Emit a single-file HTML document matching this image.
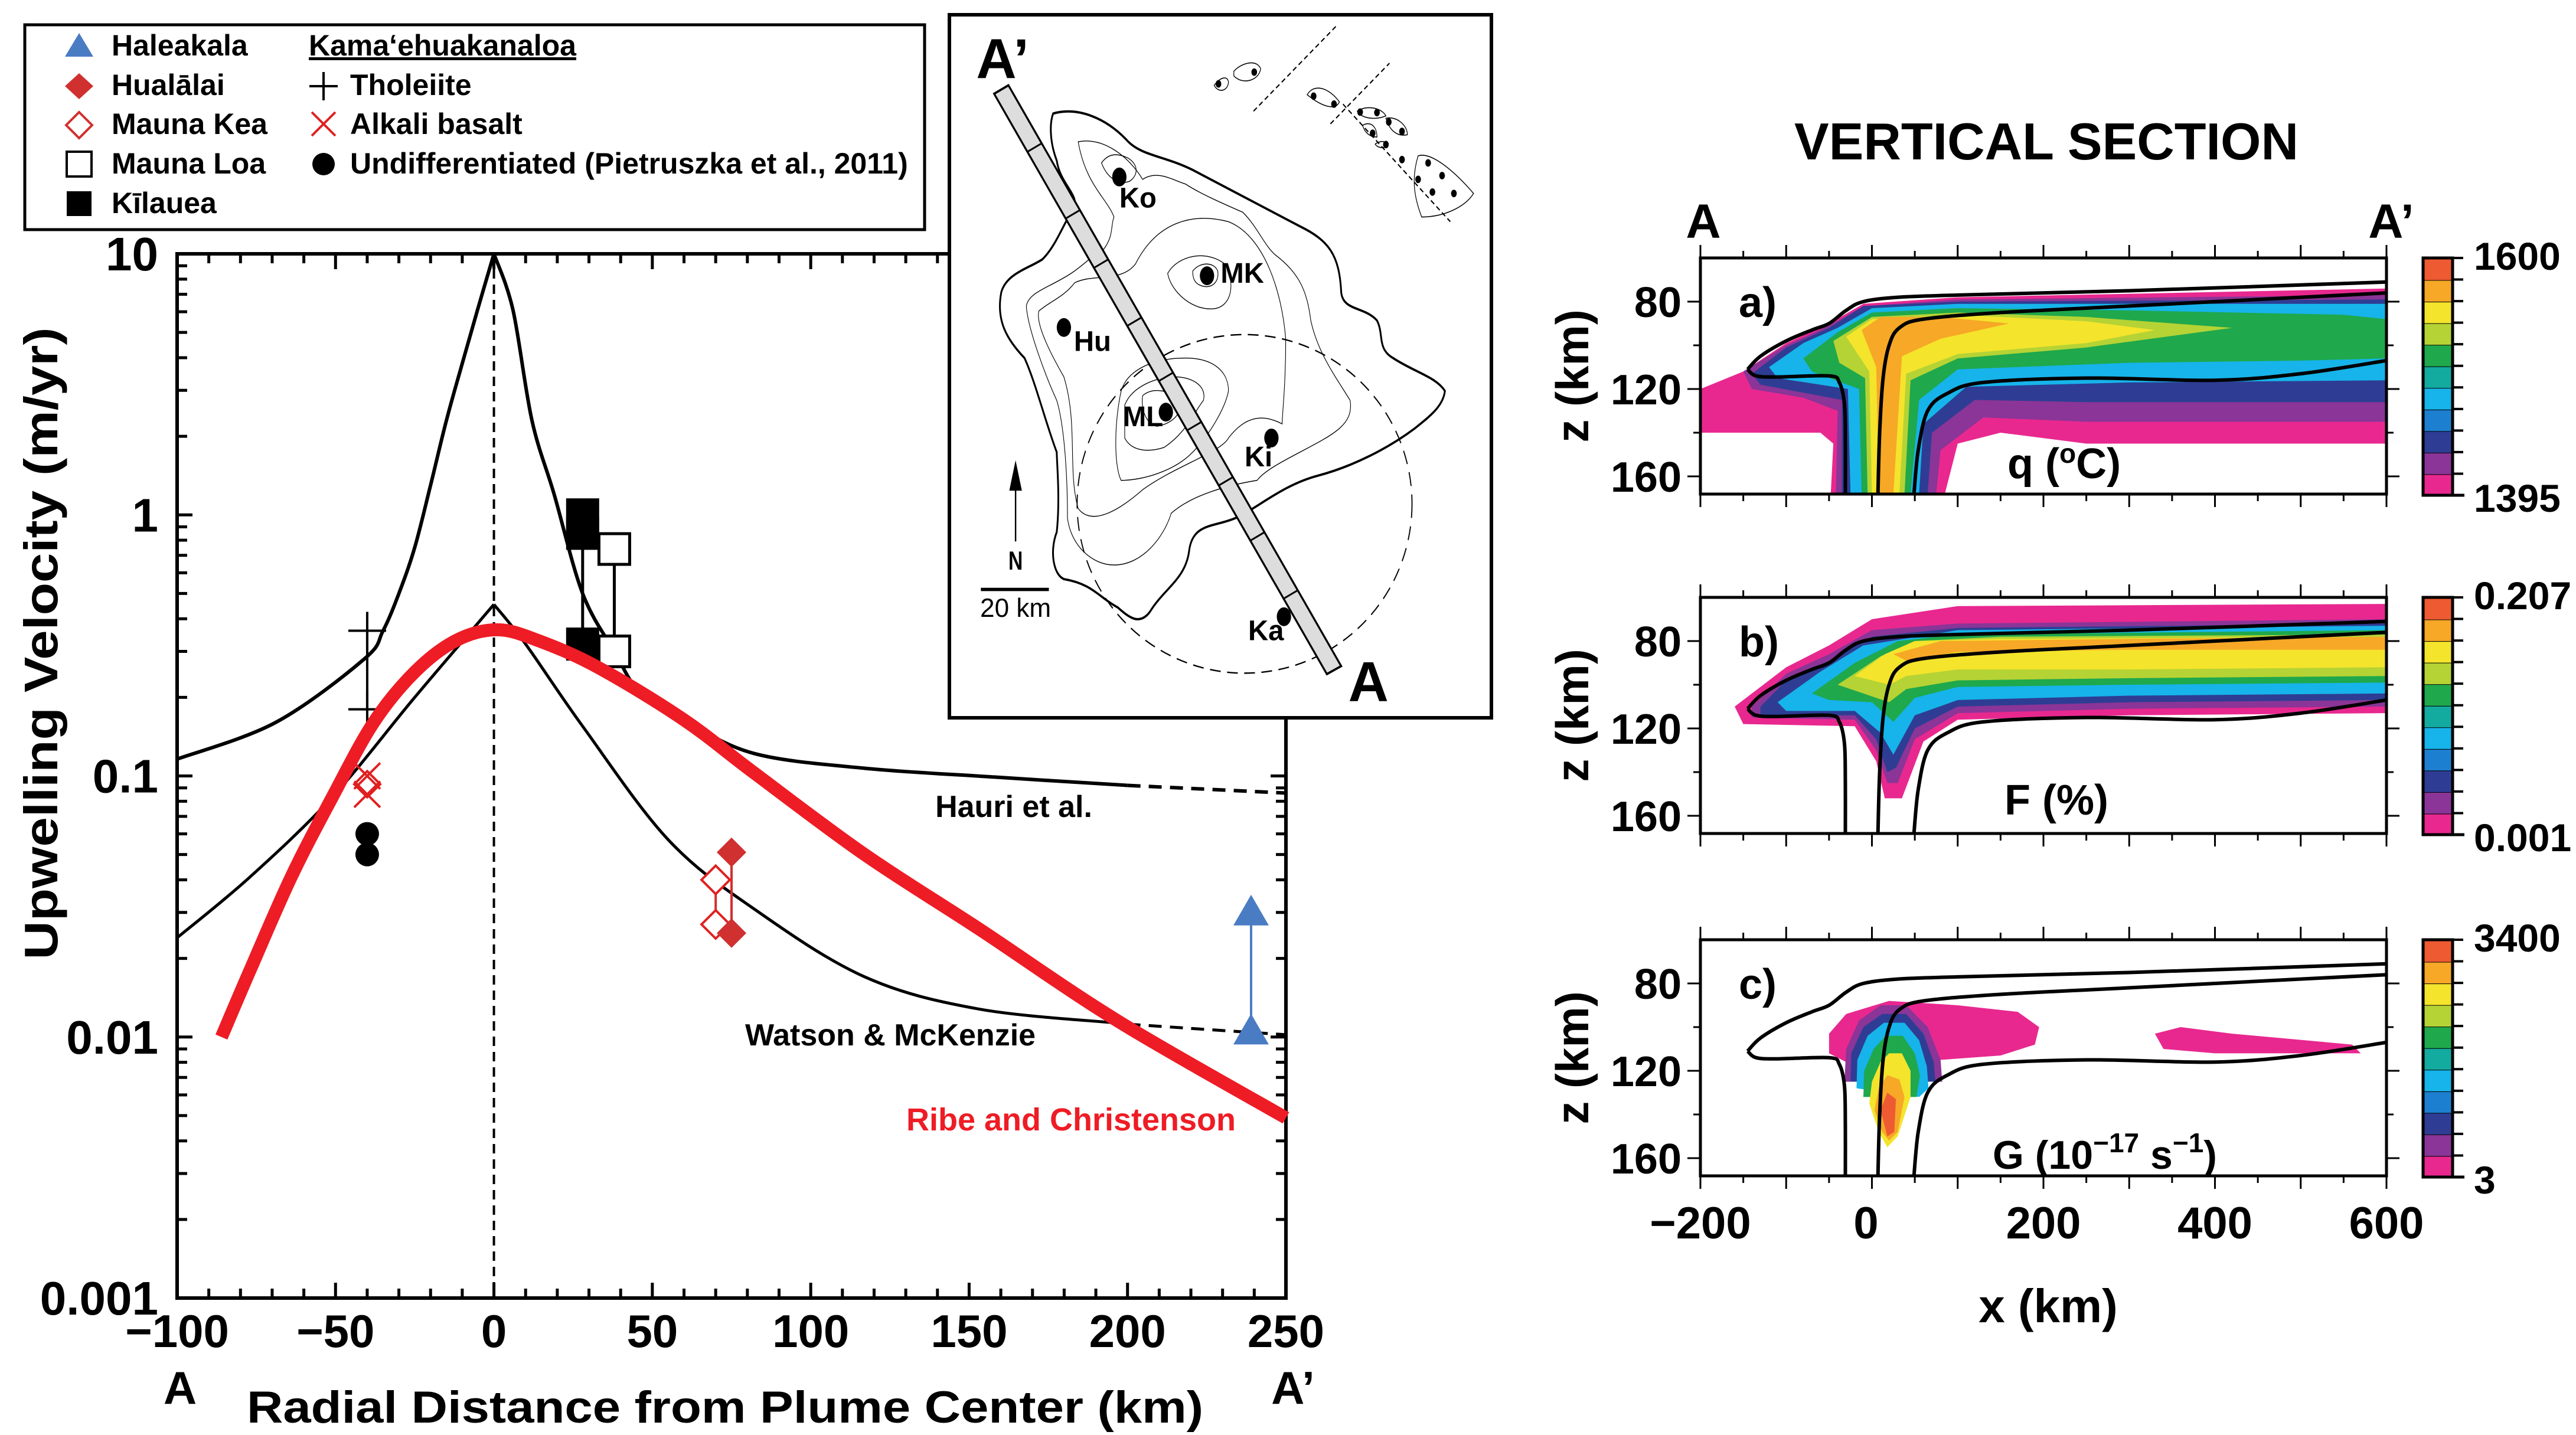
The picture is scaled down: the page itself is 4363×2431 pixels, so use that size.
<!DOCTYPE html>
<html><head><meta charset="utf-8"><style>
html,body{margin:0;padding:0;background:#fff}
svg{display:block}
text{font-family:"Liberation Sans",Arial,sans-serif;font-weight:bold}
</style></head><body>
<svg id="fig" xmlns="http://www.w3.org/2000/svg" width="4363" height="2431" viewBox="0 0 4363 2431">
<rect x="0" y="0" width="4363" height="2431" fill="#fff"/>
<g id="mainplot"></g>
<g id="legend">
 <rect x="42" y="42" width="1524" height="347" fill="#fff" stroke="#000" stroke-width="5"/>
 <polygon points="110,96 158,96 134,56" fill="#4a7cc4"/>
 <text x="189" y="94" font-size="50">Haleakala</text>
 <polygon points="134,124 158,146 134,168 110,146" fill="#d03030"/>
 <text x="189" y="161" font-size="50">Hualālai</text>
 <polygon points="134,190 156,212 134,234 112,212" fill="#fff" stroke="#d03030" stroke-width="4"/>
 <text x="189" y="227" font-size="50">Mauna Kea</text>
 <rect x="113" y="257" width="42" height="42" fill="#fff" stroke="#000" stroke-width="4"/>
 <text x="189" y="294" font-size="50">Mauna Loa</text>
 <rect x="113" y="324" width="42" height="42" fill="#000"/>
 <text x="189" y="361" font-size="50">Kīlauea</text>
 <text x="523" y="94" font-size="50" text-decoration="underline">Kamaʻehuakanaloa</text>
 <path d="M548,122 V170 M524,146 H572" stroke="#000" stroke-width="4"/>
 <text x="593" y="161" font-size="50">Tholeiite</text>
 <path d="M528,190 L568,230 M568,190 L528,230" stroke="#e02020" stroke-width="4"/>
 <text x="593" y="227" font-size="50">Alkali basalt</text>
 <circle cx="548" cy="278" r="19" fill="#000"/>
 <text x="593" y="294" font-size="50">Undifferentiated (Pietruszka et al., 2011)</text>
</g>
<g id="map"></g>
<g id="sections"></g>
</svg>
<script>
// ---------------- main chart data ----------------
const hauriLeftX = [-100,-69,-41,-35,-30,-25,-20,-15,-10,-5,0];
const hauriLeftV = [0.116,0.16,0.28,0.36,0.5,0.75,1.3,2.3,3.8,6.2,10];
const hauriRightX = [0,6,12,19,28,38,46,60,82,117,158,200];
const hauriRightV = [10,6.1,2.3,1.2,0.5,0.3,0.21,0.164,0.122,0.107,0.099,0.092];
const hauriDashX = [200,250];
const hauriDashV = [0.092,0.086];
const watsonLeftX = [-100,-77,-51,-25,0];
const watsonLeftV = [0.024,0.041,0.083,0.2,0.454];
const watsonRightX = [0,10,28,55,82,117,153,197,200];
const watsonRightV = [0.454,0.32,0.155,0.057,0.031,0.017,0.0128,0.0113,0.0112];
const watsonDashX = [200,250];
const watsonDashV = [0.0112,0.0102];
const ribeX = [-86,-77,-64,-51,-38,-25,-12,1,14,33,60,82,117,153,197,250];
const ribeV = [0.01,0.018,0.041,0.083,0.16,0.25,0.33,0.363,0.33,0.26,0.164,0.103,0.05,0.026,0.0115,0.0049];
const tholeiiteX = -40; const tholeiiteV = [0.36,0.18];
const alkaliX = -40; const alkaliV = [0.1,0.085];
const mkWestX = -40; const mkWestV = [0.093];
const undiffX = -40; const undiffV = [0.06,0.05];
const kilaueaX = 28; const kilaueaV = [1.0,0.85,0.32];
const maunaLoaX = 38; const maunaLoaV = [0.74,0.3];
const hualalaiX = 75; const hualalaiV = [0.051,0.025];
const maunaKeaX = 70; const maunaKeaV = [0.04,0.027];
const haleakalaX = 239; const haleakalaV = [0.03,0.0105];
const xTicks = [-100,-50,0,50,100,150,200,250];
const yTickVals = [10,1,0.1,0.01,0.001];
const yTickLabels = ['10','1','0.1','0.01','0.001'];

const NS='http://www.w3.org/2000/svg';
function mk(tag, attrs, parent){const e=document.createElementNS(NS,tag);for(const k in attrs)e.setAttribute(k,attrs[k]);(parent||document.getElementById('fig')).appendChild(e);return e;}
const X0=300,X1=2178,Y0=430,Y1=2199;
const xS = km => X0+(km+100)*(X1-X0)/350;
const yS = v => Y0+(1-Math.log10(v))*(Y1-Y0)/4;
function smooth(pts){
  let d='M'+pts[0][0].toFixed(1)+','+pts[0][1].toFixed(1);
  for(let i=0;i<pts.length-1;i++){
    const p0=pts[Math.max(0,i-1)],p1=pts[i],p2=pts[i+1],p3=pts[Math.min(pts.length-1,i+2)];
    const c1=[p1[0]+(p2[0]-p0[0])/6,p1[1]+(p2[1]-p0[1])/6];
    const c2=[p2[0]-(p3[0]-p1[0])/6,p2[1]-(p3[1]-p1[1])/6];
    d+=` C${c1[0].toFixed(1)},${c1[1].toFixed(1)} ${c2[0].toFixed(1)},${c2[1].toFixed(1)} ${p2[0].toFixed(1)},${p2[1].toFixed(1)}`;
  }
  return d;
}
const mp=document.getElementById('mainplot');
let e;
e=mk('rect',{x:X0,y:Y0,width:X1-X0,height:Y1-Y0,fill:'none',stroke:'#000','stroke-width':6},mp);


for(let km=-100;km<=250;km+=10){
  const L=(km%50===0)?26:16;
  e=mk('path',{d:`M${xS(km)},${Y1} v${-L} M${xS(km)},${Y0} v${L}`,stroke:'#000','stroke-width':5},mp);
  
  
}
xTicks.forEach(t=>{
  e=mk('text',{x:xS(t),y:2282,'font-size':78,'text-anchor':'middle'},mp);
  e.textContent=(t<0?'\u2212'+(-t):String(t));
  
  
});
for(let dec=-3;dec<1;dec++){
  for(let m=1;m<10;m++){
    const v=m*Math.pow(10,dec);const L=m===1?26:17;
    e=mk('path',{d:`M${X0},${yS(v)} h${L} M${X1},${yS(v)} h${-L}`,stroke:'#000','stroke-width':5},mp);
    
    
  }
}
yTickVals.forEach((v,i)=>{
  e=mk('text',{x:268,y:yS(v)+28,'font-size':80,'text-anchor':'end'},mp);
  e.textContent=yTickLabels[i];
  
  
});
e=mk('text',{x:0,y:0,'font-size':80,'text-anchor':'middle',textLength:1071,lengthAdjust:'spacingAndGlyphs',transform:'translate(97,1090) rotate(-90)'},mp);
e.textContent='Upwelling Velocity (m/yr)';


e=mk('text',{x:1228,y:2410,'font-size':76,'text-anchor':'middle',textLength:1620,lengthAdjust:'spacingAndGlyphs'},mp);
e.textContent='Radial Distance from Plume Center (km)';


e=mk('text',{x:305,y:2378,'font-size':78,'text-anchor':'middle'},mp);
e.textContent='A';


e=mk('text',{x:2190,y:2378,'font-size':78,'text-anchor':'middle'},mp);
e.textContent='A\u2019';


e=mk('line',{x1:xS(0),y1:Y0,x2:xS(0),y2:Y1,stroke:'#000','stroke-width':4,'stroke-dasharray':'16,10'},mp);


function pts(xs,vs){return xs.map((x,i)=>[xS(x),yS(vs[i])]);}
e=mk('path',{d:smooth(pts(hauriLeftX,hauriLeftV))+' '+smooth(pts(hauriRightX,hauriRightV)),fill:'none',stroke:'#000','stroke-width':6},mp);


e=mk('path',{d:smooth(pts(hauriDashX,hauriDashV)),fill:'none',stroke:'#000','stroke-width':6,'stroke-dasharray':'22,14'},mp);


e=mk('path',{d:smooth(pts(watsonLeftX,watsonLeftV))+' '+smooth(pts(watsonRightX,watsonRightV)),fill:'none',stroke:'#000','stroke-width':5},mp);


e=mk('path',{d:smooth(pts(watsonDashX,watsonDashV)),fill:'none',stroke:'#000','stroke-width':5,'stroke-dasharray':'22,14'},mp);


const SQ=56;
e=mk('line',{x1:xS(kilaueaX),y1:yS(kilaueaV[0]),x2:xS(kilaueaX),y2:yS(kilaueaV[2]),stroke:'#000','stroke-width':5},mp);


e=mk('line',{x1:xS(maunaLoaX),y1:yS(maunaLoaV[0]),x2:xS(maunaLoaX),y2:yS(maunaLoaV[1]),stroke:'#000','stroke-width':5},mp);


maunaLoaV.forEach(v=>{
  e=mk('rect',{x:xS(maunaLoaX)-26,y:yS(v)-26,width:52,height:52,fill:'#fff',stroke:'#000','stroke-width':5},mp);
  
  
});
kilaueaV.forEach(v=>{
  e=mk('rect',{x:xS(kilaueaX)-SQ/2,y:yS(v)-SQ/2,width:SQ,height:SQ,fill:'#000'},mp);
  
  
});
e=mk('line',{x1:xS(tholeiiteX),y1:yS(tholeiiteV[0]),x2:xS(tholeiiteX),y2:yS(tholeiiteV[1]),stroke:'#000','stroke-width':4},mp);


tholeiiteV.forEach(v=>{
  const x=xS(tholeiiteX),y=yS(v);
  e=mk('path',{d:`M${x-32},${y} h64 M${x},${y-32} v64`,stroke:'#000','stroke-width':4},mp);
  
  
});
alkaliV.forEach(v=>{
  const x=xS(alkaliX),y=yS(v);
  e=mk('path',{d:`M${x-22},${y-22} l44,44 M${x+22},${y-22} l-44,44`,stroke:'#e02020','stroke-width':4},mp);
  
  
});
mkWestV.forEach(v=>{
  const x=xS(mkWestX),y=yS(v);
  e=mk('polygon',{points:`${x},${y-22} ${x+22},${y} ${x},${y+22} ${x-22},${y}`,fill:'none',stroke:'#e02020','stroke-width':4},mp);
  
  
});
undiffV.forEach(v=>{
  e=mk('circle',{cx:xS(undiffX),cy:yS(v),r:20,fill:'#000'},mp);
  
  
});
e=mk('line',{x1:xS(hualalaiX),y1:yS(hualalaiV[0]),x2:xS(hualalaiX),y2:yS(hualalaiV[1]),stroke:'#d03030','stroke-width':4},mp);


e=mk('line',{x1:xS(maunaKeaX),y1:yS(maunaKeaV[0]),x2:xS(maunaKeaX),y2:yS(maunaKeaV[1]),stroke:'#d03030','stroke-width':4},mp);


maunaKeaV.forEach(v=>{
  const x=xS(maunaKeaX),y=yS(v);
  e=mk('polygon',{points:`${x},${y-24} ${x+24},${y} ${x},${y+24} ${x-24},${y}`,fill:'#fff',stroke:'#e02020','stroke-width':4},mp);
  
  
});
hualalaiV.forEach(v=>{
  const x=xS(hualalaiX),y=yS(v);
  e=mk('polygon',{points:`${x},${y-25} ${x+25},${y} ${x},${y+25} ${x-25},${y}`,fill:'#d03030'},mp);
  
  
});
e=mk('line',{x1:xS(haleakalaX),y1:yS(haleakalaV[0]),x2:xS(haleakalaX),y2:yS(haleakalaV[1]),stroke:'#4a7cc4','stroke-width':4},mp);


haleakalaV.forEach(v=>{
  const x=xS(haleakalaX),y=yS(v);
  e=mk('polygon',{points:`${x-30},${y+22} ${x+30},${y+22} ${x},${y-30}`,fill:'#4a7cc4'},mp);
  
  
});
e=mk('path',{d:smooth(pts(ribeX,ribeV)),fill:'none',stroke:'#ee1c25','stroke-width':22,'stroke-linecap':'butt'},mp);


e=mk('text',{x:1717,y:1384,'font-size':52,'text-anchor':'middle'},mp);
e.textContent='Hauri et al.';


e=mk('text',{x:1508,y:1771,'font-size':52,'text-anchor':'middle'},mp);
e.textContent='Watson & McKenzie';


e=mk('text',{x:1814,y:1915,'font-size':54,'text-anchor':'middle',fill:'#ee1c25'},mp);
e.textContent='Ribe and Christenson';


</script>
<script>
// ---------------- inset map ----------------
(function(){
const NS='http://www.w3.org/2000/svg';
const g=document.getElementById('map');
function mk(tag,a,p){const e=document.createElementNS(NS,tag);for(const k in a)e.setAttribute(k,a[k]);(p||g).appendChild(e);return e;}
let e=mk('rect',{x:1608,y:25,width:918,height:1191,fill:'#fff',stroke:'#000','stroke-width':6});


const m=mk('g',{transform:'translate(1608,25) scale(0.606,0.7967) translate(-20,-30)'});
const coast='M310,240 C380,225 460,250 520,300 C560,330 620,330 700,360 C800,400 900,440 1000,480 C1080,510 1110,540 1115,620 C1120,660 1180,650 1215,680 C1235,710 1215,740 1260,760 C1320,790 1380,800 1405,830 C1400,860 1370,880 1320,910 C1250,950 1150,990 1050,1010 C950,1030 880,1080 820,1100 C760,1120 700,1110 690,1170 C680,1230 620,1250 580,1300 C550,1330 520,1310 490,1290 C440,1270 420,1240 340,1230 C310,1220 300,1170 320,1130 C330,1060 320,980 320,960 C290,900 260,810 230,760 C180,720 150,680 165,620 C180,580 240,570 280,550 C320,520 340,470 370,440 C380,410 330,390 320,340 C300,300 300,260 310,240 Z';
e=mk('path',{d:coast,fill:'none',stroke:'#000','stroke-width':5},m);


const contours=[
'M380,300 C450,290 520,330 560,380 C600,360 640,380 680,390 C720,410 780,430 840,450 C880,480 900,520 930,540 C1000,580 1020,620 1030,680 C1050,750 1100,800 1140,850 C1150,900 1100,920 1000,960 C950,980 900,1000 880,1020 C800,1030 700,1050 640,1090 C620,1140 560,1200 480,1200 C420,1200 360,1160 350,1100 C350,1000 340,900 320,850 C290,800 240,700 235,650 C240,620 300,610 360,580 C400,560 420,540 450,530 C480,500 470,480 480,460 C460,420 400,390 380,300 Z',
'M445,345 C460,330 480,320 520,335 C550,350 545,370 530,380 C520,390 470,395 445,345 Z',
'M540,560 C600,470 700,450 800,470 C900,500 950,620 960,720 C960,820 950,880 950,900 C900,880 850,880 800,930 C780,960 650,990 560,1040 C500,1080 420,1120 380,1080 C350,1000 380,900 340,800 C310,760 260,690 270,660 C300,640 340,630 370,600 C420,580 500,600 540,560 Z',
'M630,580 C660,540 740,530 790,560 C820,600 810,650 760,655 C700,660 640,620 630,580 Z',
'M700,575 C720,555 760,555 770,575 C775,600 750,615 720,605 C705,600 700,590 700,575 Z',
'M500,830 C520,780 600,760 680,760 C760,760 800,790 800,830 C790,870 740,930 700,960 C650,1000 560,1020 500,1020 C480,990 480,900 500,830 Z',
'M510,860 C530,820 600,800 650,800 C700,800 740,820 730,850 C700,880 680,920 620,950 C580,960 530,960 510,930 Z',
'M560,840 C590,820 640,830 670,850 C670,880 640,900 600,905 C570,900 555,870 560,840 Z'];
contours.forEach(d=>{
  e=mk('path',{d:d,fill:'none',stroke:'#000','stroke-width':1.8},m);
  
  
});
e=mk('ellipse',{cx:845,cy:1070,rx:468,ry:360,fill:'none',stroke:'#000','stroke-width':3,'stroke-dasharray':'30,18'},m);


e=mk('polygon',{points:'145,198 185,180 1115,1415 1075,1432',fill:'#ddd',stroke:'#000','stroke-width':5},m);


const segT=[0.1,0.215,0.3,0.4,0.495,0.58,0.675,0.77,0.87];
segT.forEach(t=>{
  const x1=145+(1075-145)*t,y1=198+(1432-198)*t;
  e=mk('line',{x1:x1,y1:y1,x2:x1+40,y2:y1-18,stroke:'#000','stroke-width':4},m);
  
  
});
const vol=[['Ko',495,375,495,440],['MK',740,585,778,600],['Hu',340,695,368,745],['ML',625,875,505,905],['Ki',920,930,845,990],['Ka',955,1310,855,1360]];
vol.forEach(v=>{
  e=mk('circle',{cx:v[1],cy:v[2],r:20,fill:'#000'},m);
  
  
  e=mk('text',{x:v[3],y:v[4],'font-size':60,transform:`translate(${v[3]},${v[4]}) scale(1.3,1) translate(${-v[3]},${-v[4]})`},m);
  e.textContent=v[0];
  
  
});
e=mk('text',{x:95,y:165,'font-size':120,transform:'translate(95,165) scale(1.3,1) translate(-95,-165)'},m);
e.textContent='A\u2019';


e=mk('text',{x:1135,y:1490,'font-size':120,transform:'translate(1135,1490) scale(1.3,1) translate(-1135,-1490)'},m);
e.textContent='A';


e=mk('path',{d:'M205,1150 V1000 M190,1040 L205,985 L220,1040 Z',stroke:'#000','stroke-width':4,fill:'#000'},m);


e=mk('text',{x:205,y:1210,'font-size':56,'text-anchor':'middle'},m);
e.textContent='N';


e=mk('line',{x1:108,y1:1252,x2:298,y2:1252,stroke:'#000','stroke-width':7},m);


e=mk('text',{x:205,y:1310,'font-size':56,'text-anchor':'middle',style:'font-weight:normal',transform:'translate(205,1310) scale(1.3,1) translate(-205,-1310)'},m);
e.textContent='20 km';


const isl=['M760,180 C780,160 800,160 800,175 C795,195 770,195 760,180 Z','M815,150 C840,130 880,125 890,145 C885,170 840,180 815,160 Z',
'M1020,200 C1040,175 1080,185 1110,215 C1100,235 1060,225 1020,200 Z','M1160,235 C1190,220 1230,230 1240,245 C1210,255 1170,250 1160,235 Z',
'M1175,265 C1200,255 1215,270 1215,290 C1195,290 1180,280 1175,265 Z','M1240,250 C1270,245 1300,265 1300,285 C1270,290 1250,275 1240,250 Z',
'M1210,305 C1230,295 1245,300 1245,310 C1230,315 1215,312 1210,305 Z','M1330,330 C1370,320 1440,370 1485,410 C1460,440 1400,460 1340,460 C1320,420 1310,380 1330,330 Z'];
isl.forEach(d=>{
  e=mk('path',{d:d,fill:'none',stroke:'#000','stroke-width':2},m);
  
  
});
[[772,177],[872,152],[1038,203],[1095,220],[1168,237],[1215,238],[1248,258],[1285,278],[1203,282],[1240,306],[1285,338],[1358,345],[1397,372],[1330,380],[1370,407],[1430,410]].forEach(p=>{
  e=mk('circle',{cx:p[0],cy:p[1],r:8,fill:'#000'},m);
  
  
});
e=mk('path',{d:'M870,235 L1100,55 M1085,262 L1250,133 M1120,220 L1420,470',fill:'none',stroke:'#000','stroke-width':3,'stroke-dasharray':'12,8'},m);


})();
</script>
<script>
// ---------------- vertical sections ----------------
const colorbarColors = ['#e8288f','#8a3597','#2e3d93','#1d7fd0','#16b4ea','#13aaa0','#1fa84c','#b5d334','#f4e42c','#f6a826','#ee5a32'];
const sectionTickLabels = [['1600','1395'],['0.207','0.001'],['3400','3']];
const depthTicks = [80,120,160];
const xTickKm = [-200,0,200,400,600];
const line1Upper = [[-145,111],[-130,105],[-100,98],[-70,93],[-50,90],[-30,84],[-10,80],[30,78],[100,77],[300,75],[600,71]];
const line1Lower = [[-145,111],[-135,114],[-110,114.5],[-50,114],[-38,117],[-32,127],[-31,145],[-31,168]];
const line2 = [[7,168],[9,140],[13,115],[20,100],[32,92],[60,88],[150,85],[300,82],[600,76]];
const line3 = [[49,168],[54,148],[65,130],[88,122],[130,117],[250,115],[400,116],[500,113],[600,107]];
const panelAFields = [
 [0,[[-200,120],[-150,112],[-100,99],[-50,90],[-10,81],[100,78],[600,74],[600,145],[250,145],[150,140],[100,145],[85,168],[-48,168],[-45,145],[-60,140],[-200,140]]],
 [1,[[-150,112],[-100,100],[-50,91],[-10,82],[100,79],[600,77],[600,135],[250,135],[130,133],[80,148],[75,168],[-42,168],[-40,130],[-80,124],[-140,120]]],
 [2,[[-140,113],[-100,101],[-50,92],[-10,82],[100,80],[600,79],[600,126],[250,126],[120,125],[70,140],[65,168],[-35,168],[-35,125],[-130,118]]],
 [4,[[-120,110],[-80,99],[-40,92],[0,83],[100,81],[600,81],[600,116],[300,117],[110,119],[60,136],[55,168],[-25,168],[-28,120],[-110,115]]],
 [6,[[-80,106],[-40,94],[0,85],[100,83],[300,84],[550,86],[600,88],[600,106],[500,107],[300,108],[100,111],[55,125],[45,168],[-12,168],[-15,120],[-70,112]]],
 [7,[[-45,98],[0,87],[100,85],[250,87],[420,92],[250,101],[100,106],[45,116],[38,168],[-5,168],[-8,115],[-38,108]]],
 [8,[[-30,96],[0,88],[100,86],[250,89],[330,93],[250,99],[100,104],[40,113],[32,168],[0,168],[-3,112]]],
 [9,[[-12,93],[10,87],[80,87],[160,90],[80,97],[35,105],[25,168],[8,168],[5,110]]]
];
const panelBFields = [
 [0,[[-160,110],[-100,92],[-50,82],[0,70],[100,64],[600,63],[600,113],[300,114],[100,116],[60,126],[35,152],[15,152],[5,135],[-20,119],[-150,118]]],
 [1,[[-140,110],[-100,95],[-50,86],[0,75],[100,72],[600,70],[600,110],[300,111],[100,113],[50,125],[30,145],[18,145],[5,130],[-20,116],[-140,115]]],
 [2,[[-130,110],[-100,98],[-50,89],[0,78],[100,74],[600,72],[600,107],[300,108],[100,110],[50,120],[28,138],[18,140],[5,125],[-20,114],[-130,114]]],
 [4,[[-110,108],[-60,94],[-10,82],[100,75],[600,73],[600,104],[300,105],[100,107],[50,114],[25,132],[10,122],[-20,112],[-100,112]]],
 [6,[[-70,104],[-20,90],[30,80],[100,77],[600,75],[600,99],[300,100],[100,101],[50,106],[25,117],[0,108],[-50,107]]],
 [7,[[-40,100],[10,87],[50,80],[150,78],[600,77],[600,96],[300,97],[100,98],[40,102],[20,108],[-10,104]]],
 [8,[[-20,96],[15,86],[50,80],[150,79],[600,78],[600,92],[300,93],[100,93],[40,96],[20,100]]],
 [9,[[25,86],[80,80],[300,79],[600,78],[600,84],[300,84],[100,85],[40,89]]]
];
const panelCFields = [
 [0,[[-50,103],[-30,94],[20,88],[100,90],[170,93],[195,100],[190,108],[150,113],[80,115],[50,120],[-20,118],[-50,112]]],
 [0,[[330,103],[360,100],[420,103],[560,108],[570,112],[400,112],[340,110]]],
 [1,[[-32,125],[-30,110],[-15,97],[10,90],[40,90],[65,100],[80,115],[82,125]]],
 [2,[[-25,125],[-24,112],[-10,100],[12,94],[40,94],[60,103],[72,116],[74,125]]],
 [4,[[-18,128],[-17,115],[-5,104],[14,98],[38,98],[55,106],[64,118],[66,128],[55,132]]],
 [6,[[-10,132],[-9,120],[2,110],[16,104],[36,104],[50,112],[56,122],[52,132]]],
 [8,[[-3,135],[0,125],[10,116],[20,112],[35,112],[45,120],[45,132],[30,150],[18,155],[8,148]]],
 [9,[[3,138],[8,128],[18,122],[32,124],[38,132],[30,148],[20,152],[12,148]]],
 [10,[[10,138],[18,130],[28,133],[26,148],[18,150]]]
];
const allFields=[panelAFields,panelBFields,panelCFields];
const panelLetters=['a)','b)','c)'];
const panelTops=[437,1012,1592];
(function(){
const NS='http://www.w3.org/2000/svg';
const sg=document.getElementById('sections');
function mk(tag,a,p){const e=document.createElementNS(NS,tag);for(const k in a)e.setAttribute(k,a[k]);(p||sg).appendChild(e);return e;}
const HX0=2880,HX1=4042,PH=400;
const hx=km=>HX0+(km+200)*(HX1-HX0)/800;
let e;
e=mk('text',{x:3466,y:270,'font-size':88,'text-anchor':'middle'});
e.textContent='VERTICAL SECTION';


e=mk('text',{x:2885,y:403,'font-size':82,'text-anchor':'middle'});
e.textContent='A';


e=mk('text',{x:4050,y:403,'font-size':82,'text-anchor':'middle'});
e.textContent='A\u2019';


function smoothPts(p){let d='M'+p[0][0].toFixed(1)+','+p[0][1].toFixed(1);
 for(let i=0;i<p.length-1;i++){const p0=p[Math.max(0,i-1)],p1=p[i],p2=p[i+1],p3=p[Math.min(p.length-1,i+2)];
 d+=` C${(p1[0]+(p2[0]-p0[0])/6).toFixed(1)},${(p1[1]+(p2[1]-p0[1])/6).toFixed(1)} ${(p2[0]-(p3[0]-p1[0])/6).toFixed(1)},${(p2[1]-(p3[1]-p1[1])/6).toFixed(1)} ${p2[0].toFixed(1)},${p2[1].toFixed(1)}`;}
 return d;}
allFields.forEach((fields,pi)=>{
  const top=panelTops[pi];
  const hz=dep=>top+(dep-60)*3.7;
  const pg=mk('g',{});
  
  
  const cid='clip'+pi;
  const cp=mk('clipPath',{id:cid},pg);
  mk('rect',{x:HX0,y:top,width:HX1-HX0,height:PH},cp);
  const fg=mk('g',{'clip-path':`url(#${cid})`},pg);
  fields.forEach(f=>{
    const p=f[1].map(q=>hx(q[0]).toFixed(1)+','+hz(q[1]).toFixed(1)).join(' ');
    e=mk('polygon',{points:p,fill:colorbarColors[f[0]],'stroke-linejoin':'round'},fg);
    
    
  });
  [line1Upper,line1Lower,line2,line3].forEach(ln=>{
    e=mk('path',{d:smoothPts(ln.map(q=>[hx(q[0]),hz(q[1])])),fill:'none',stroke:'#000','stroke-width':6},fg);
    
    
  });
  e=mk('rect',{x:HX0,y:top,width:HX1-HX0,height:PH,fill:'none',stroke:'#000','stroke-width':5},pg);
  
  
  for(let k=-200;k<=600;k+=50){
    const L=(k%100===0)?22:12;
    const xx=hx(k);
    e=mk('path',{d:`M${xx},${top} v${-L} M${xx},${top+PH} v${L}`,stroke:'#000','stroke-width':3},pg);
    
    
  }
  for(let d=80;d<=160;d+=20){
    const L=d%40===0?22:12;
    e=mk('path',{d:`M${HX0},${hz(d)} h${-L} M${HX1},${hz(d)} h${L}`,stroke:'#000','stroke-width':3},pg);
    
    
  }
  depthTicks.forEach(d=>{
    e=mk('text',{x:2848,y:hz(d)+26,'font-size':72,'text-anchor':'end'},pg);
    e.textContent=String(d);
    
    
  });
  e=mk('text',{x:0,y:0,'font-size':78,'text-anchor':'middle',transform:`translate(2690,${top+200}) rotate(-90)`},pg);
  e.textContent='z (km)';
  
  
  e=mk('text',{x:2945,y:top+100,'font-size':72},pg);
  e.textContent=panelLetters[pi];
  
  
  const CX=4104,CW=50,CT=top,CH=402;
  colorbarColors.forEach((c,i)=>{
    const y0=CT+CH-(i+1)*CH/11;
    e=mk('rect',{x:CX,y:y0,width:CW,height:CH/11+1,fill:c},pg);
    
    
    e=mk('line',{x1:CX,y1:y0,x2:CX+CW+18,y2:y0,stroke:'#000','stroke-width':4},pg);
    
    
  });
  e=mk('rect',{x:CX,y:CT,width:CW,height:CH,fill:'none',stroke:'#000','stroke-width':5},pg);
  
  
  e=mk('line',{x1:CX,y1:CT+CH,x2:CX+CW+20,y2:CT+CH,stroke:'#000','stroke-width':5},pg);
  
  
  e=mk('text',{x:4190,y:CT+20,'font-size':66},pg);
  e.textContent=sectionTickLabels[pi][0];
  
  
  e=mk('text',{x:4190,y:CT+CH+28,'font-size':66},pg);
  e.textContent=sectionTickLabels[pi][1];
  
  
});
e=mk('text',{x:3400,y:810,'font-size':72});
e.innerHTML='q (<tspan font-size="46" dy="-26">o</tspan><tspan dy="26">C)</tspan>';


e=mk('text',{x:3395,y:1380,'font-size':72});
e.textContent='F (%)';


e=mk('text',{x:3375,y:1980,'font-size':68});
e.innerHTML='G (10<tspan font-size="46" dy="-28">\u221217</tspan><tspan dy="28"> s</tspan><tspan font-size="46" dy="-28">\u22121</tspan><tspan dy="28">)</tspan>';


xTickKm.forEach(k=>{
  e=mk('text',{x:hx(k)-(k===0?10:0),y:2098,'font-size':76,'text-anchor':'middle'});
  e.textContent=(k<0?'\u2212'+(-k):String(k));
  
  
});
e=mk('text',{x:3469,y:2240,'font-size':80,'text-anchor':'middle'});
e.textContent='x (km)';


})();
</script>
</body></html>
